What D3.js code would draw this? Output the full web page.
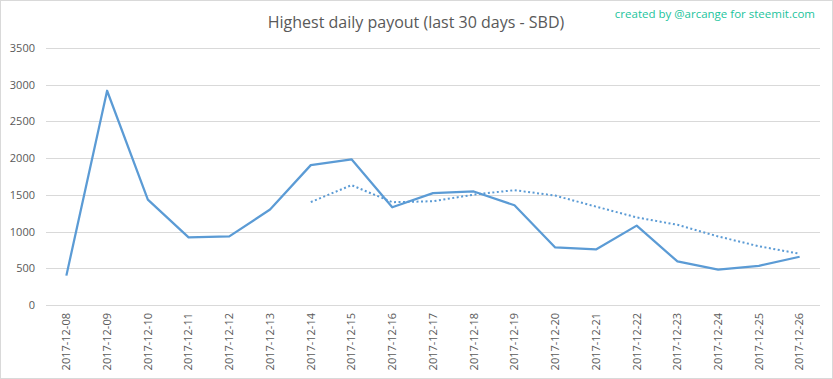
<!DOCTYPE html>
<html><head><meta charset="utf-8">
<script src="https://cdn.jsdelivr.net/npm/d3@7"></script>
<style>body{margin:0;background:#fff}svg{display:block}</style>
</head><body><svg id="c" width="833" height="379"></svg>
<script>
const categories = ["2017-12-08","2017-12-09","2017-12-10","2017-12-11","2017-12-12","2017-12-13","2017-12-14","2017-12-15","2017-12-16","2017-12-17","2017-12-18","2017-12-19","2017-12-20","2017-12-21","2017-12-22","2017-12-23","2017-12-24","2017-12-25","2017-12-26"];
const payout = [400,2918,1436,921,934,1300,1905,1984,1331,1523,1546,1358,784,757,1081,593,483,534,657];
const trend = [null,null,null,null,null,null,1402,1632,1400,1413,1503,1564,1490,1340,1193,1092,934,800,698];
const yTicks = [0,500,1000,1500,2000,2500,3000,3500];
const title = "Highest daily payout (last 30 days - SBD)";
const credit = "created by @arcange for steemit.com";

const svg = d3.select("#c");
const W = 833, H = 379;
const m = {l:46, r:13, t:48, b:74};
svg.append("rect").attr("x",0.5).attr("y",0.5).attr("width",W-1).attr("height",H-1)
  .attr("fill","#fff").attr("stroke","#d9d9d9");

const x = d3.scaleBand().domain(categories).range([m.l, W-m.r]);
const y = d3.scaleLinear().domain([0,3500]).range([H-m.b, m.t]);

const grid = svg.append("g");
grid.selectAll("line").data(yTicks).join("line")
  .attr("x1",m.l).attr("x2",W-m.r)
  .attr("y1",d=>Math.round(y(d))+0.5).attr("y2",d=>Math.round(y(d))+0.5)
  .attr("stroke","#d9d9d9").attr("stroke-width",1);

const yAxis = d3.axisLeft(y).tickValues(yTicks).tickFormat(d3.format("d")).tickSize(0).tickPadding(0);
const gy = svg.append("g").attr("transform",`translate(${m.l-11},0)`).call(yAxis);
gy.select(".domain").remove();
gy.selectAll("text").attr("fill","#595959").style("font-family","'Open Sans', sans-serif").style("font-size","11px");

const xAxis = d3.axisBottom(x).tickSize(0).tickPadding(0);
const gx = svg.append("g").attr("transform",`translate(0,${H-m.b})`).call(xAxis);
gx.select(".domain").remove();
gx.selectAll("text")
  .attr("fill","#595959").style("font-family","'Open Sans', sans-serif").style("font-size","11px")
  .attr("transform","rotate(-90)").attr("text-anchor","end")
  .attr("x",-8).attr("y",0).attr("dy","0.35em");

const cx = d => x(d) + x.bandwidth()/2;
const line = d3.line().defined(d=>d.v!=null).x(d=>cx(d.c)).y(d=>y(d.v));

svg.append("path").datum(categories.map((c,i)=>({c, v:trend[i]})))
  .attr("d",line).attr("fill","none").attr("stroke","#5b9bd5")
  .attr("stroke-width",2).attr("stroke-dasharray","2,2.5");

svg.append("path").datum(categories.map((c,i)=>({c, v:payout[i]})))
  .attr("d",line).attr("fill","none").attr("stroke","#5b9bd5")
  .attr("stroke-width",2.25).attr("stroke-linejoin","round");

svg.append("text").attr("x",416).attr("y",28).attr("text-anchor","middle")
  .attr("fill","#595959").style("font-family","'Open Sans', sans-serif").style("font-size","16px")
  .text(title);
svg.append("text").attr("x",815).attr("y",18).attr("text-anchor","end")
  .attr("fill","#1bc49c").style("font-family","'Open Sans', sans-serif").style("font-size","11.5px")
  .text(credit);
</script></body></html>
